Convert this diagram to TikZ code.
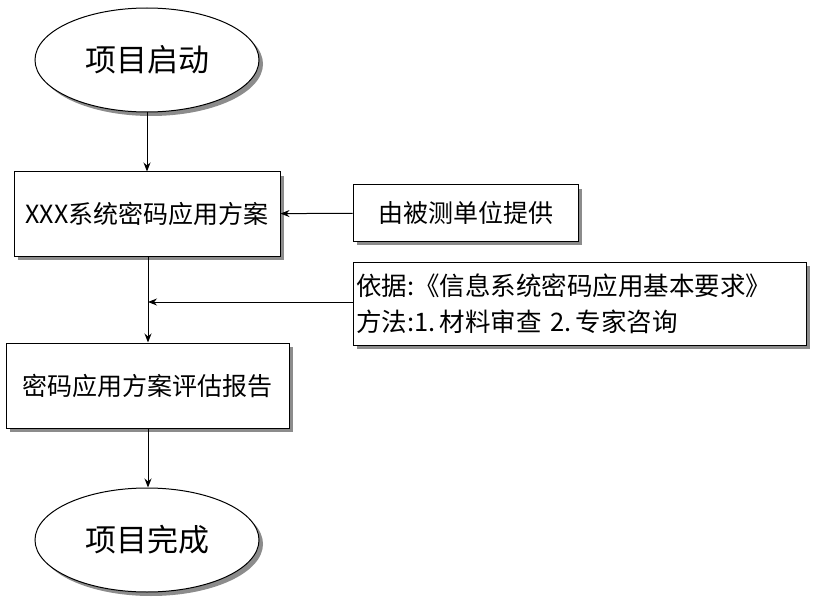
\documentclass[tikz,border=0pt]{standalone}
\usepackage{fontspec}
\setmainfont{Noto Sans CJK SC}
\usetikzlibrary{shapes.geometric,arrows.meta,shadows}
\begin{document}
\begin{tikzpicture}[x=1pt,y=-1pt,
  sh/.style={drop shadow={shadow xshift=4pt,shadow yshift=-4pt,fill=black!45,opacity=1}},
  box/.style={draw,line width=1pt,fill=white,sh,inner sep=0pt,font=\fontsize{25pt}{30pt}\selectfont},
  ell/.style={ellipse,draw,line width=1pt,fill=white,sh,minimum width=224pt,minimum height=104pt,font=\fontsize{31pt}{36pt}\selectfont},
  arr/.style={line width=1pt,-{Stealth[length=9pt,width=7pt]}}]
\useasboundingbox (0,0) rectangle (817,607);
\node[ell] (s) at (147,60) {项目启动};
\node[box,minimum width=266pt,minimum height=84pt] (a) at (147,214) {XXX系统密码应用方案};
\node[box,minimum width=225pt,minimum height=56pt] (p) at (465.5,213) {由被测单位提供};
\node[box,minimum width=453pt,minimum height=83pt,align=left,text width=447pt,font=\fontsize{25.5pt}{36pt}\selectfont] (b) at (579.5,303.5) {依据:《信息系统密码应用基本要求》\\方法:1.\,材料审查\ 2.\,专家咨询};
\node[box,minimum width=283pt,minimum height=85pt] (r) at (147.5,385.5) {密码应用方案评估报告};
\node[ell] (e) at (147,540) {项目完成};
\coordinate (m) at (148,302);
\draw[arr] (s) -- (a);
\draw[arr] (p) -- (a);
\draw[arr] (a.south -| m) -- (r.north -| m);
\draw[arr] (b.west |- m) -- (m);
\draw[arr] (r.south -| m) -- (m |- e.north);
\end{tikzpicture}
\end{document}
